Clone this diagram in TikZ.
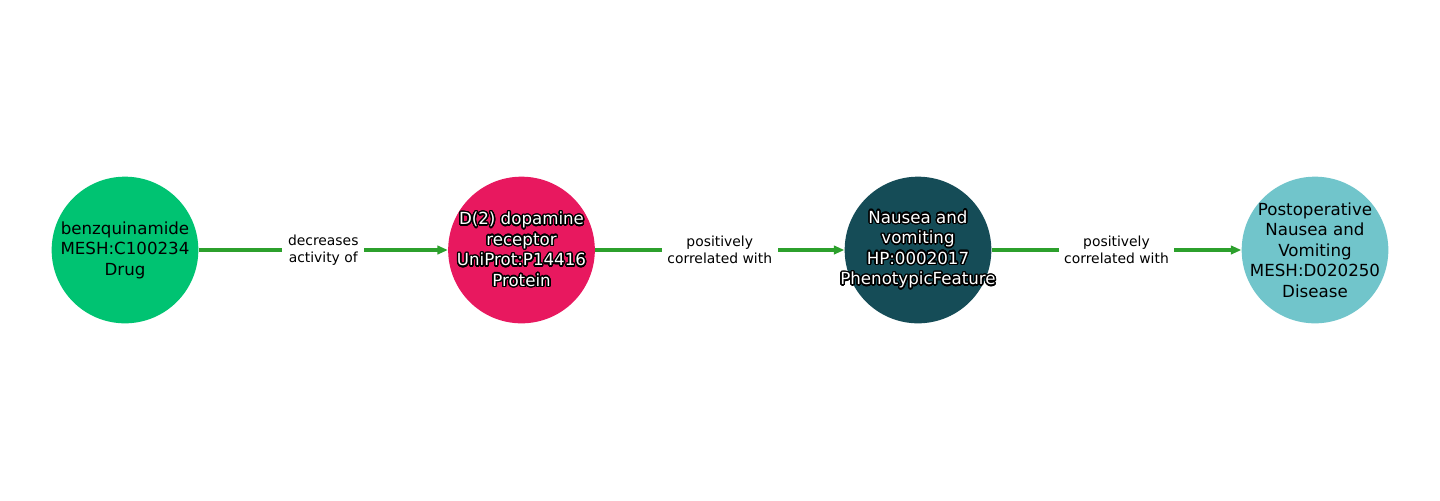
\documentclass[tikz,border=0pt]{standalone}
\usepackage{fontspec}
\setmainfont{DejaVu Sans}
\usepackage{contour}
\contourlength{1pt}
\contournumber{24}
\usetikzlibrary{arrows.meta}
\definecolor{cdrug}{HTML}{00C372}
\definecolor{cprot}{HTML}{E8185F}
\definecolor{cphen}{HTML}{154C57}
\definecolor{cdis}{HTML}{71C5CB}
\definecolor{cedge}{HTML}{2CA02C}
\newcommand{\halo}[1]{\contour{black}{\textcolor{white}{#1}}}
\begin{document}
\begin{tikzpicture}[x=0.72pt,y=-0.72pt,
  ent/.style={circle,minimum size=105.6pt,inner sep=0pt},
  etxt/.style={inner sep=0pt,align=center,font=\fontsize{12pt}{14.8pt}\selectfont},
  rel/.style={draw=cedge,line width=3pt,-{Triangle[length=7.5pt,width=6pt]}},
  rlab/.style={fill=white,inner xsep=4pt,inner ysep=2pt,align=center,font=\fontsize{10pt}{11.8pt}\selectfont,text=black}]
\useasboundingbox (0,0) rectangle (1440,500);
\node[ent,fill=cdrug] (a) at (125,250) {};
\node[ent,fill=cprot] (b) at (521.5,250) {};
\node[ent,fill=cphen] (c) at (918,250) {};
\node[ent,fill=cdis] (d) at (1315,250) {};
\node[etxt] (ta) at (a) {benzquinamide\\MESH:C100234\\Drug};
\node[etxt] (tb) at (b) {\halo{D(2) dopamine}\\\halo{receptor}\\\halo{UniProt:P14416}\\\halo{Protein}};
\node[etxt] (tc) at (c) {\halo{Nausea and}\\\halo{vomiting}\\\halo{HP:0002017}\\\halo{PhenotypicFeature}};
\node[etxt] (td) at (d) {Postoperative\\Nausea and\\Vomiting\\MESH:D020250\\Disease};
\draw[rel] (a) -- node[rlab] (l1) {decreases\\activity of} (b);
\draw[rel] (b) -- node[rlab] (l2) {positively\\correlated with} (c);
\draw[rel] (c) -- node[rlab] (l3) {positively\\correlated with} (d);
\end{tikzpicture}
\end{document}
